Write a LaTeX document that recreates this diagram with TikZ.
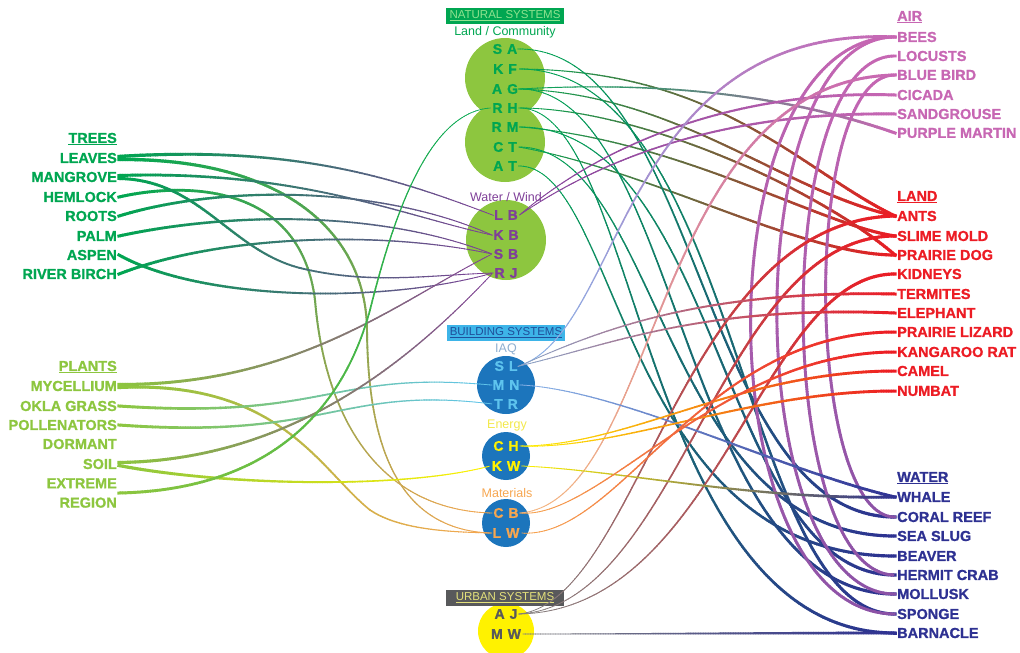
\documentclass[tikz,border=0pt]{standalone}
\usepackage{fontspec}
\setmainfont{Liberation Sans}[BoldFeatures={FakeBold=1}]
\usetikzlibrary{decorations.markings,calc}
\definecolor{treeG}{HTML}{00A651}
\definecolor{plantG}{HTML}{8DC63F}
\definecolor{airP}{HTML}{C767B3}
\definecolor{landR}{HTML}{EC1C24}
\definecolor{waterB}{HTML}{2E3192}
\definecolor{circG}{HTML}{8DC63F}
\definecolor{purW}{HTML}{7F3F98}
\definecolor{blueC}{HTML}{1C75BC}
\definecolor{iaqL}{HTML}{5EC4EE}
\definecolor{iaqH}{HTML}{8FAFD0}
\definecolor{yelE}{HTML}{FFF200}
\definecolor{yelH}{HTML}{F2E84A}
\definecolor{oraM}{HTML}{F6A650}
\definecolor{urbG}{HTML}{58595B}
\definecolor{urbT}{HTML}{E4E17B}
\definecolor{bldB}{HTML}{3DB4E8}
\definecolor{bldT}{HTML}{1F4E9A}
\definecolor{natT}{HTML}{8FE28F}
\definecolor{grayU}{HTML}{808080}
\definecolor{ltBlue}{HTML}{8AB4E8}
\definecolor{peach}{HTML}{F5B880}
\colorlet{iaqG}{ltBlue!70!gray}
\colorlet{pinkN}{airP!60!waterB}
\newcommand\lfont{\bfseries\fontsize{14.5}{19.4}\selectfont}
\newcommand\hfont{\fontsize{12.5}{14}\selectfont}
\newcommand\bxfont{\fontsize{11.5}{13}\selectfont}
\newcommand\rfont{\bfseries\fontsize{14}{15}\selectfont}
\begin{document}
\begin{tikzpicture}[x=1pt,y=-1pt,
  lbl/.style={font=\lfont,text=#1,inner sep=2pt},
  lleft/.style={lbl=#1,anchor=east},
  lright/.style={lbl=#1,anchor=west},
  cdisc/.style={circle,fill=#1,inner sep=0pt},
  ltr/.style={font=\rfont,text=#1,inner sep=1.5pt},
  hd/.style={font=\hfont,text=#1,inner sep=1pt},
  sysbox/.style={font=\bxfont,fill=#1,minimum width=118pt,minimum height=16pt,inner sep=1pt},
  rib/.style n args={4}{
    postaction={decorate,decoration={markings,
      mark=between positions 0 and 1 step 2.5pt with {%
        \pgfmathsetmacro\ribf{min(1,(\pgfkeysvalueof{/pgf/decoration/mark info/sequence number}-1)*2.5/\pgfdecoratedpathlength)}%
        \pgfmathsetmacro\ribp{100*(1-\ribf)}%
        \pgfmathsetmacro\ribw{#3+(#4-#3)*\ribf}%
        \pgfsetcolor{#1!\ribp!#2}%
        \pgfsetlinewidth{\ribw pt}%
        \pgfpathmoveto{\pgfpoint{-1.6pt}{0pt}}%
        \pgfpathlineto{\pgfpoint{1.6pt}{0pt}}%
        \pgfusepath{stroke}%
      }}}}
]
\useasboundingbox (0,0) rectangle (1020,653);

% ---------- left labels ----------
\node[lleft=treeG] (t0) at (119,139) {\underline{TREES}};
\node[lleft=treeG] (tLeaves) at (119,158) {LEAVES};
\node[lleft=treeG] (tMangrove) at (119,177) {MANGROVE};
\node[lleft=treeG] (tHemlock) at (119,197) {HEMLOCK};
\node[lleft=treeG] (tRoots) at (119,216) {ROOTS};
\node[lleft=treeG] (tPalm) at (119,236) {PALM};
\node[lleft=treeG] (tAspen) at (119,255) {ASPEN};
\node[lleft=treeG] (tBirch) at (119,274) {RIVER BIRCH};

\node[lleft=plantG] (p0) at (119,367) {\underline{PLANTS}};
\node[lleft=plantG] (pMyc) at (119,386) {MYCELLIUM};
\node[lleft=plantG] (pOkla) at (119,406) {OKLA GRASS};
\node[lleft=plantG] (pPoll) at (119,425) {POLLENATORS};
\node[lleft=plantG] (pDorm) at (119,444) {DORMANT};
\node[lleft=plantG] (pSoil) at (119,464) {SOIL};
\node[lleft=plantG,align=right] (pExt) at (119,493) {EXTREME\\REGION};

% ---------- right labels ----------
\node[lright=airP] (a0) at (895,17) {\underline{AIR}};
\node[lright=airP] (aBees) at (895,37) {BEES};
\node[lright=airP] (aLoc) at (895,56) {LOCUSTS};
\node[lright=airP] (aBlue) at (895,75) {BLUE BIRD};
\node[lright=airP] (aCic) at (895,95) {CICADA};
\node[lright=airP] (aSand) at (895,114) {SANDGROUSE};
\node[lright=airP] (aPurple) at (895,133) {PURPLE MARTIN};

\node[lright=landR] (l0) at (895,197) {\underline{LAND}};
\node[lright=landR] (lAnts) at (895,216) {ANTS};
\node[lright=landR] (lSlime) at (895,236) {SLIME MOLD};
\node[lright=landR] (lDog) at (895,255) {PRAIRIE DOG};
\node[lright=landR] (lKid) at (895,274) {KIDNEYS};
\node[lright=landR] (lTerm) at (895,294) {TERMITES};
\node[lright=landR] (lEleph) at (895,313) {ELEPHANT};
\node[lright=landR] (lLiz) at (895,332) {PRAIRIE LIZARD};
\node[lright=landR] (lRat) at (895,352) {KANGAROO RAT};
\node[lright=landR] (lCamel) at (895,371) {CAMEL};
\node[lright=landR] (lNumbat) at (895,391) {NUMBAT};

\node[lright=waterB] (w0) at (895,478) {\underline{WATER}};
\node[lright=waterB] (wWhale) at (895,497) {WHALE};
\node[lright=waterB] (wCoral) at (895,517) {CORAL REEF};
\node[lright=waterB] (wSlug) at (895,536) {SEA SLUG};
\node[lright=waterB] (wBeaver) at (895,556) {BEAVER};
\node[lright=waterB] (wCrab) at (895,575) {HERMIT CRAB};
\node[lright=waterB] (wMollusk) at (895,594) {MOLLUSK};
\node[lright=waterB] (wSponge) at (895,614) {SPONGE};
\node[lright=waterB] (wBarn) at (895,633) {BARNACLE};

% ---------- centre circles ----------
\node[cdisc=circG,minimum size=80pt] (cL1) at (505,78) {};
\node[cdisc=circG,minimum size=80pt] (cL2) at (505,142) {};
\node[cdisc=circG,minimum size=80pt] (cW) at (506,240) {};
\node[cdisc=blueC,minimum size=58pt] (cI) at (506,385) {};
\node[cdisc=blueC,minimum size=48pt] (cE) at (506,456) {};
\node[cdisc=blueC,minimum size=48pt] (cM) at (506,523) {};
\node[cdisc=yelE,minimum size=56pt] (cU) at (506,631) {};

\node[sysbox=treeG,text=natT] (hN) at (505,16) {\underline{NATURAL SYSTEMS}};
\node[hd=treeG] (hL) at (505,32) {Land / Community};
\node[hd=purW] (hW) at (506,197) {Water / Wind};
\node[sysbox=bldB,text=bldT] (hB) at (506,333) {\underline{BUILDING SYSTEMS}};
\node[hd=iaqH] (hI) at (506,349) {IAQ};
\node[hd=yelH] (hE) at (507,425) {Energy};
\node[hd=oraM] (hM) at (507,493) {Materials};
\node[sysbox=urbG,text=urbT] (hU) at (505,598) {\underline{URBAN SYSTEMS}};

\node[ltr=treeG] (nSA) at (505,49) {S\hspace{5pt}A};
\node[ltr=treeG] (nKF) at (505,69) {K\hspace{5pt}F};
\node[ltr=treeG] (nAG) at (505,89) {A\hspace{5pt}G};
\node[ltr=treeG] (nRH) at (505,108) {R\hspace{5pt}H};
\node[ltr=treeG] (nRM) at (505,127) {R\hspace{5pt}M};
\node[ltr=treeG] (nCT) at (505,147) {C\hspace{5pt}T};
\node[ltr=treeG] (nAT) at (505,166) {A\hspace{5pt}T};

\node[ltr=purW] (wLB) at (506,215) {L\hspace{5pt}B};
\node[ltr=purW] (wKB) at (506,235) {K\hspace{5pt}B};
\node[ltr=purW] (wSB) at (506,254) {S\hspace{5pt}B};
\node[ltr=purW] (wRJ) at (506,273) {R\hspace{5pt}J};

\node[ltr=iaqL] (iSL) at (506,366) {S\hspace{5pt}L};
\node[ltr=iaqL] (iMN) at (506,385) {M\hspace{5pt}N};
\node[ltr=iaqL] (iTR) at (506,404) {T\hspace{5pt}R};

\node[ltr=yelE] (eCH) at (506,446) {C\hspace{5pt}H};
\node[ltr=yelE] (eKW) at (506,466) {K\hspace{5pt}W};

\node[ltr=oraM] (mCB) at (506,513) {C\hspace{5pt}B};
\node[ltr=oraM] (mLW) at (506,533) {L\hspace{5pt}W};

\node[ltr=urbG] (uAJ) at (506,614) {A\hspace{5pt}J};
\node[ltr=urbG] (uMW) at (506,634) {M\hspace{5pt}W};

% ---------- left connectors ----------
\path[rib={treeG}{purW}{3.4}{0.7}] ($(tLeaves.east)+(0,-1.5)$) .. controls (300,145) and (400,180) .. (wLB.west);
\path[rib={treeG}{oraM}{3.4}{0.8}] ($(tLeaves.east)+(0,1.5)$) .. controls (280,158) and (366,230) .. (367,330) .. controls (368,450) and (400,530) .. (mLW.west);
\path[rib={treeG}{oraM}{3}{0.8}] (tHemlock.east) .. controls (180,183) and (300,180) .. (315,300) .. controls (325,420) and (380,510) .. (mCB.west);
\path[rib={treeG}{purW}{3}{0.7}] ($(tMangrove.east)+(0,-1.5)$) .. controls (300,170) and (400,215) .. (wKB.west);
\path[rib={treeG}{purW}{3}{0.7}] ($(tMangrove.east)+(0,1.5)$) .. controls (200,180) and (230,250) .. (300,268) .. controls (370,285) and (430,275) .. (wRJ.west);
\path[rib={treeG}{purW}{3}{0.7}] (tRoots.east) .. controls (220,185) and (380,185) .. (wKB.west);
\path[rib={treeG}{purW}{3}{0.7}] (tPalm.east) .. controls (230,212) and (380,210) .. (wSB.west);
\path[rib={treeG}{purW}{3}{0.7}] (tAspen.east) .. controls (200,300) and (380,305) .. (wRJ.west);
\path[rib={treeG}{purW}{3}{0.7}] (tBirch.east) .. controls (220,235) and (380,230) .. (wSB.west);
\path[rib={plantG}{purW}{3.2}{0.7}] ($(pMyc.east)+(0,-1.5)$) .. controls (300,385) and (400,300) .. (wSB.west);
\path[rib={plantG}{oraM}{3.2}{0.8}] ($(pMyc.east)+(0,1.5)$) .. controls (280,380) and (320,470) .. (370,510) .. controls (400,530) and (450,532) .. (mLW.west);
\path[rib={plantG}{iaqL}{3}{0.7}] (pOkla.east) .. controls (330,420) and (330,370) .. (iMN.west);
\path[rib={plantG}{iaqL}{3}{0.7}] (pPoll.east) .. controls (330,440) and (340,385) .. (iTR.west);
\path[rib={plantG}{purW}{3.2}{0.7}] ($(pSoil.east)+(0,-1.5)$) .. controls (300,460) and (420,350) .. (wRJ.west);
\path[rib={plantG}{yelE}{3.2}{0.8}] ($(pSoil.east)+(0,1.5)$) .. controls (220,485) and (400,490) .. (eKW.west);
\path[rib={plantG}{treeG}{3}{0.6}] (pExt.east) .. controls (260,490) and (340,420) .. (370,310) .. controls (395,210) and (430,112) .. (nRH.west);

% ---------- right connectors ----------
% land/community -> land
\path[rib={landR}{treeG}{3.2}{0.7}] (lAnts.west) .. controls (800,170) and (720,70) .. (nKF.east);
\path[rib={landR}{treeG}{3.2}{0.7}] (lAnts.west) .. controls (780,190) and (680,95) .. (nAG.east);
\path[rib={landR}{treeG}{3.2}{0.7}] (lDog.west) .. controls (820,190) and (640,108) .. (nRH.east);
\path[rib={landR}{treeG}{3.2}{0.7}] (lSlime.west) .. controls (820,225) and (680,140) .. (nRM.east);
\path[rib={landR}{treeG}{3.2}{0.7}] (lDog.west) .. controls (800,255) and (650,170) .. (nCT.east);
% land/community -> water
\path[rib={waterB}{treeG}{3.2}{0.7}] (wCoral.west) .. controls (700,517) and (700,49) .. (nSA.east);
\path[rib={waterB}{treeG}{3.2}{0.7}] (wSponge.west) .. controls (740,614) and (740,69) .. (nKF.east);
\path[rib={waterB}{treeG}{3.2}{0.7}] (wMollusk.west) .. controls (680,594) and (680,89) .. (nAG.east);
\path[rib={waterB}{treeG}{3.2}{0.7}] (wBarn.west) .. controls (640,633) and (640,108) .. (nRH.east);
\path[rib={waterB}{treeG}{3.2}{0.7}] (wCrab.west) .. controls (720,575) and (720,127) .. (nRM.east);
\path[rib={waterB}{treeG}{3.2}{0.7}] (wSlug.west) .. controls (660,536) and (660,147) .. (nCT.east);
\path[rib={waterB}{treeG}{3.2}{0.7}] (wBeaver.west) .. controls (620,556) and (620,166) .. (nAT.east);
% air
\path[rib={airP}{treeG}{3}{0.7}] (aPurple.west) .. controls (800,100) and (680,80) .. (nAG.east);
\path[rib={airP}{purW}{3}{0.7}] (aCic.west) .. controls (760,90) and (620,130) .. (wLB.east);
\path[rib={airP}{purW}{3}{0.7}] (aSand.west) .. controls (760,112) and (630,140) .. (wLB.east);
\path[rib={airP}{pinkN}{2.9}{2.9}] (aBees.west) .. controls (700,37) and (705,614) .. (wSponge.west);
\path[rib={airP}{pinkN}{2.9}{2.9}] (aBees.west) .. controls (735,37) and (740,594) .. (wMollusk.west);
\path[rib={airP}{pinkN}{2.9}{2.9}] (aLoc.west) .. controls (770,56) and (775,575) .. (wCrab.west);
\path[rib={airP}{pinkN}{2.9}{2.9}] (aBlue.west) .. controls (800,75) and (805,517) .. (wCoral.west);
\path[rib={airP}{ltBlue}{3}{0.8}] (aBees.west) .. controls (620,25) and (625,330) .. (iSL.east);
\path[rib={airP}{peach}{3}{0.8}] (aBlue.west) .. controls (650,80) and (660,500) .. (mCB.east);
% land -> urban
\path[rib={landR}{grayU}{3.2}{0.6}] (lAnts.west) .. controls (680,220) and (640,600) .. (uAJ.east);
\path[rib={landR}{grayU}{3.2}{0.6}] (lSlime.west) .. controls (720,236) and (680,605) .. (uAJ.east);
\path[rib={landR}{grayU}{3.2}{0.6}] (lKid.west) .. controls (760,274) and (720,610) .. (uAJ.east);
% IAQ
\path[rib={landR}{iaqG}{3}{0.7}] (lTerm.west) .. controls (700,290) and (600,330) .. (iSL.east);
\path[rib={landR}{iaqG}{3}{0.7}] (lEleph.west) .. controls (700,305) and (610,345) .. (iSL.east);
\path[rib={waterB}{ltBlue}{3}{0.7}] (wWhale.west) .. controls (780,470) and (620,390) .. (iMN.east);
% energy
\path[rib={landR}{yelE}{3}{0.7}] (lNumbat.west) .. controls (750,391) and (620,450) .. (eCH.east);
\path[rib={landR}{yelE}{3}{0.7}] (lCamel.west) .. controls (740,371) and (630,446) .. (eCH.east);
\path[rib={waterB}{yelE}{3}{0.7}] (wWhale.west) .. controls (750,500) and (620,470) .. (eKW.east);
% materials
\path[rib={landR}{oraM}{3}{0.7}] (lRat.west) .. controls (720,352) and (600,520) .. (mCB.east);
\path[rib={landR}{oraM}{3}{0.7}] (lLiz.west) .. controls (700,332) and (620,540) .. (mLW.east);
% urban
\path[rib={waterB}{grayU}{3}{0.6}] (wBarn.west) .. controls (750,633) and (650,634) .. (uMW.east);
\end{tikzpicture}
\end{document}
